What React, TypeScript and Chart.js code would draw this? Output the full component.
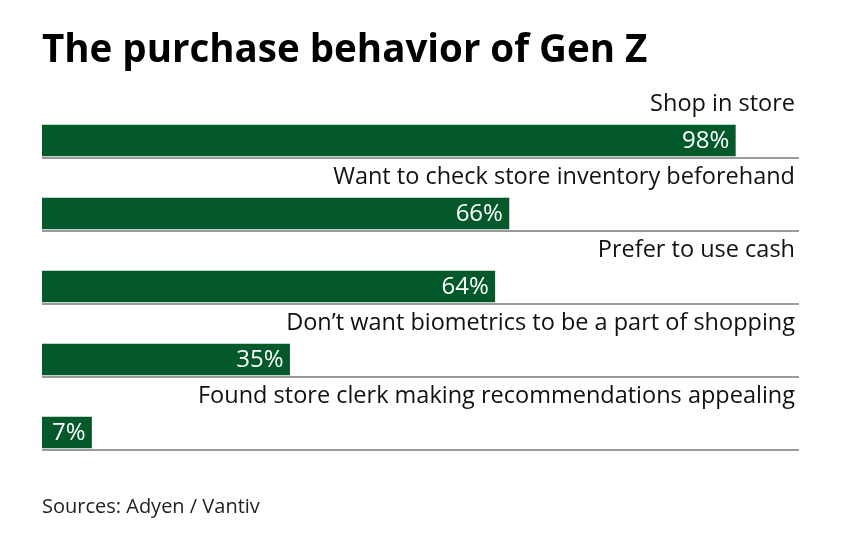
import React, { useEffect, useRef } from 'react';
import { Chart, registerables } from 'chart.js';

Chart.register(...registerables);

const TITLE = 'The purchase behavior of Gen Z';
const SOURCE = 'Sources: Adyen / Vantiv';

const categories = [
  'Shop in store',
  'Want to check store inventory beforehand',
  'Prefer to use cash',
  'Don’t want biometrics to be a part of shopping',
  'Found store clerk making recommendations appealing',
];
const shares = [98, 66, 64, 35, 7];

const GREEN = '#03592a';
const FONT = '"Open Sans", "Noto Sans", sans-serif';

// draws the row labels, value labels, separators, title and source
const rowLabels = {
  id: 'rowLabels',
  afterDatasetsDraw(chart: Chart) {
    const { ctx, chartArea } = chart;
    const meta = chart.getDatasetMeta(0);
    ctx.save();
    meta.data.forEach((bar: any, i: number) => {
      const { x, y, height } = bar.getProps(['x', 'y', 'height'], true);
      const top = y - height / 2;
      const bottom = y + height / 2;

      ctx.strokeStyle = '#9a9a9a';
      ctx.lineWidth = 2;
      ctx.beginPath();
      ctx.moveTo(chartArea.left, bottom + 2);
      ctx.lineTo(chartArea.right, bottom + 2);
      ctx.stroke();

      ctx.font = `23.5px ${FONT}`;
      ctx.textAlign = 'right';
      ctx.textBaseline = 'alphabetic';
      ctx.fillStyle = '#111';
      ctx.fillText(categories[i], chartArea.right - 4, top - 14);

      ctx.fillStyle = '#fff';
      ctx.font = `24px ${FONT}`;
      ctx.fillText(`${shares[i]}%`, x - 6, y + 7.5);
    });

    ctx.textAlign = 'left';
    ctx.fillStyle = '#000';
    ctx.font = `bold 38.5px ${FONT}`;
    ctx.fillText(TITLE, chartArea.left, 62);

    ctx.fillStyle = '#222';
    ctx.font = `20px ${FONT}`;
    ctx.fillText(SOURCE, chartArea.left, 513);
    ctx.restore();
  },
};

const App: React.FC = () => {
  const canvasRef = useRef<HTMLCanvasElement>(null);

  useEffect(() => {
    if (!canvasRef.current) return;
    const chart = new Chart(canvasRef.current, {
      type: 'bar',
      data: {
        labels: categories,
        datasets: [
          {
            data: shares,
            backgroundColor: GREEN,
            borderWidth: 0,
            barThickness: 31,
          },
        ],
      },
      options: {
        indexAxis: 'y',
        responsive: true,
        maintainAspectRatio: false,
        animation: false,
        layout: { padding: { left: 42, right: 45, top: 104, bottom: 81 } },
        plugins: {
          legend: { display: false },
          tooltip: { enabled: false },
        },
        scales: {
          x: { display: false, min: 0, max: 107 },
          y: { display: false },
        },
      },
      plugins: [rowLabels],
    });
    return () => chart.destroy();
  }, []);

  return (
    <div style={{ position: 'absolute', left: 0, top: 0, width: 844, height: 550, background: '#fff' }}>
      <canvas ref={canvasRef}></canvas>
    </div>
  );
};

export default App;
